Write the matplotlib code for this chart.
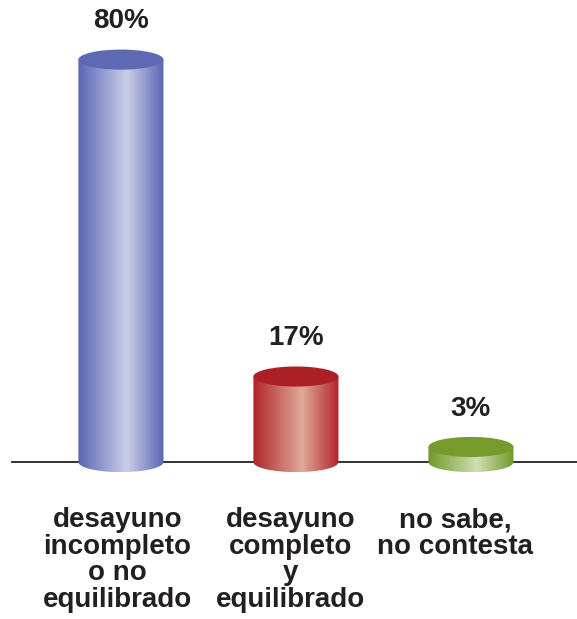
import numpy as np
import matplotlib.pyplot as plt
from matplotlib.patches import Ellipse, PathPatch
from matplotlib.path import Path
from matplotlib.colors import LinearSegmentedColormap

plt.rcParams['font.family'] = ['Liberation Sans', 'DejaVu Sans']

categories = ['desayuno\nincompleto\no no\nequilibrado',
              'desayuno\ncompleto\ny\nequilibrado',
              'no sabe,\nno contesta']
values = [80, 17, 3]
labels = ['80%', '17%', '3%']

# edge / highlight / top colours of each cylinder
edge_colors = ['#5a65b3', '#b0242a', '#6f9a2b']
light_colors = ['#cbcee8', '#e0aa9a', '#d2deb0']
top_colors = ['#5e69b6', '#ad1f27', '#779b2a']

fig = plt.figure(figsize=(5.77, 6.19), dpi=100)
ax = fig.add_axes([0, 0, 1, 1])
ax.set_xlim(-0.691, 2.606)
ax.set_ylim(-31.2, 91.85)
ax.axis('off')

bar_w = 0.486
ell_h = 4.0

ax.plot([-0.623, 2.606], [0, 0], color='#222222', lw=1.3, zorder=1)

for i, v in enumerate(values):
    x0, x1 = i - bar_w / 2, i + bar_w / 2
    # body: rectangle closed by the lower half of the base ellipse
    t = np.linspace(0, np.pi, 60)
    bx = i + bar_w / 2 * np.cos(t)
    by = -ell_h / 2 * np.sin(t)
    verts = [(x1, v)] + [(x1, 0)] + list(zip(bx, by)) + [(x0, 0), (x0, v), (x1, v)]
    codes = [Path.MOVETO] + [Path.LINETO] * (len(verts) - 2) + [Path.CLOSEPOLY]
    body = PathPatch(Path(verts, codes), facecolor='none', edgecolor='none')
    ax.add_patch(body)
    cmap = LinearSegmentedColormap.from_list(
        'c%d' % i, [(0, edge_colors[i]), (0.57, light_colors[i]), (1, edge_colors[i])])
    grad = np.linspace(0, 1, 256).reshape(1, -1)
    im = ax.imshow(grad, cmap=cmap, aspect='auto', interpolation='bicubic',
                   extent=(x0, x1, -ell_h / 2, v), zorder=2)
    im.set_clip_path(body)
    top = Ellipse((i, v), bar_w, ell_h, facecolor=top_colors[i], edgecolor='none', zorder=3)
    ax.add_patch(top)
    ax.text(i, v + 7.6, labels[i], ha='center', va='center', fontsize=20,
            fontweight='bold', color='#231f20')

label_x = [-0.02, -0.03, -0.09]
for i, c in enumerate(categories):
    ax.text(i + label_x[i], -9.0, c, ha='center', va='top', fontsize=20,
            fontweight='bold', color='#231f20', linespacing=1.02)

fig.savefig('out.png', dpi=100)
